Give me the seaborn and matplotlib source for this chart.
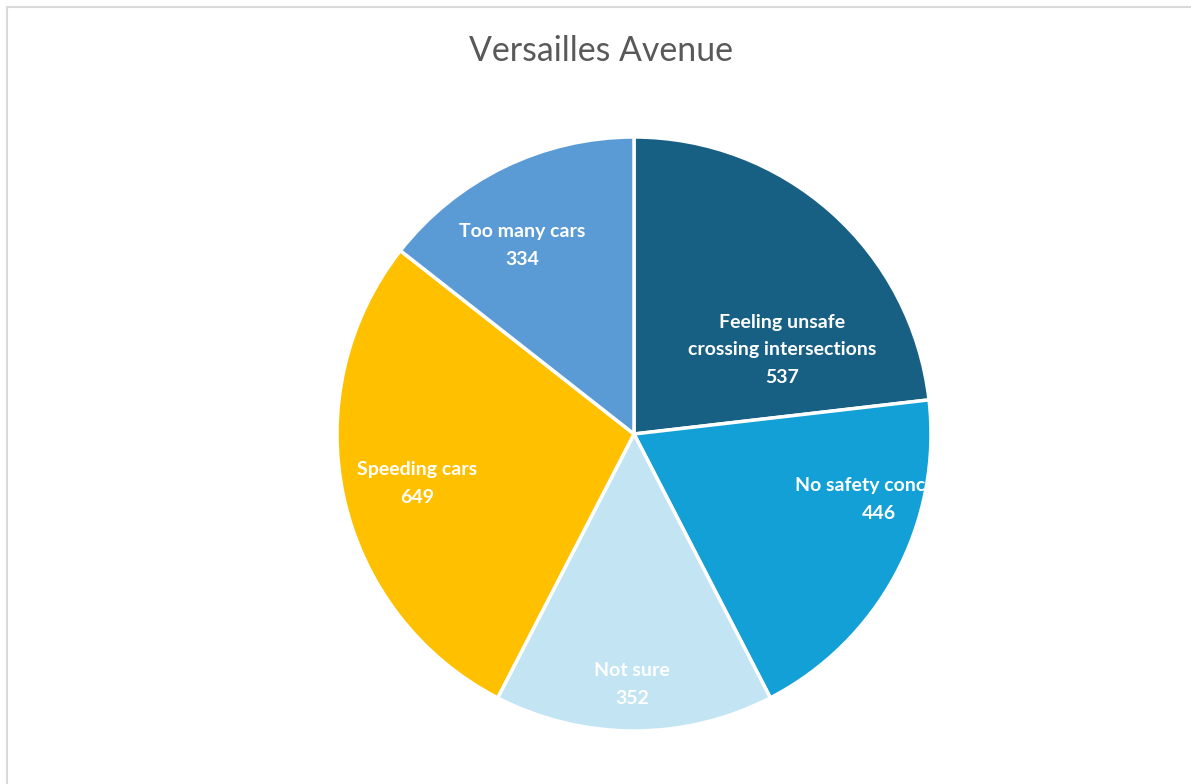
import matplotlib
matplotlib.use("Agg")
import matplotlib.pyplot as plt
import seaborn as sns
from matplotlib.lines import Line2D

categories = [
    "Feeling unsafe\ncrossing intersections",
    "No safety concerns",
    "Not sure",
    "Speeding cars",
    "Too many cars",
]
counts = [537, 446, 352, 649, 334]
colors = ["#176084", "#12A0D7", "#C2E4F3", "#FFC000", "#5B9BD5"]
# label anchor points in pie coordinates (radius 1)
label_pos = [(0.498, 0.283), (0.825, -0.222), (-0.007, -0.842), (-0.731, -0.168), (-0.377, 0.636)]

sns.set_theme(style="white")
plt.rcParams["font.family"] = ["Lato", "DejaVu Sans"]

W, H = 1191, 784
fig = plt.figure(figsize=(W / 100, H / 100), dpi=100)
fig.patch.set_facecolor("white")

cx, cy, r = 634, 434, 297
ax = fig.add_axes([(cx - r) / W, (H - cy - r) / H, 2 * r / W, 2 * r / H])
ax.pie(
    counts,
    colors=colors,
    startangle=90,
    counterclock=False,
    radius=1,
    wedgeprops=dict(edgecolor="white", linewidth=2.5),
)
ax.set_xlim(-1, 1)
ax.set_ylim(-1, 1)
ax.set_aspect("equal")
ax.axis("off")

for cat, n, (x, y) in zip(categories, counts, label_pos):
    ax.text(x, y, f"{cat}\n{n}", ha="center", va="center", color="white",
            fontsize=14, fontweight="bold", linespacing=1.78)

fig.text(601 / W, 1 - 51 / H, "Versailles Avenue", ha="center", va="center",
         fontsize=24.4, color="#595959")

# chart area border (top and left edges visible)
fig.add_artist(Line2D([6.5 / W, 6.5 / W], [0, 1 - 7 / H], transform=fig.transFigure,
                      color="#D9D9D9", linewidth=1.5))
fig.add_artist(Line2D([6.5 / W, 1], [1 - 7 / H, 1 - 7 / H], transform=fig.transFigure,
                      color="#D9D9D9", linewidth=1.5))

fig.savefig("out.png", dpi=100)
